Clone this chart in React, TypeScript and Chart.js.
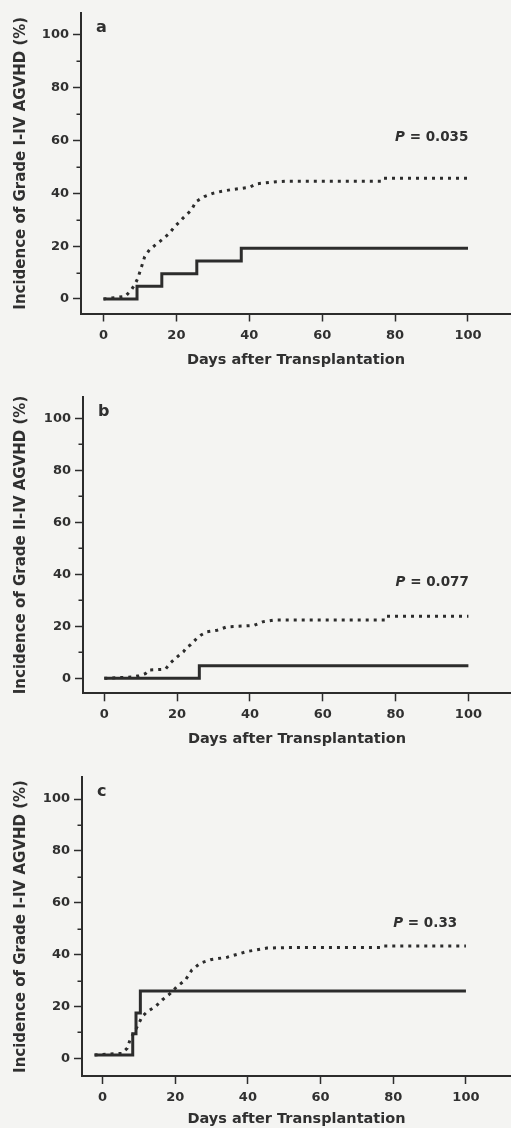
import React, { useEffect, useRef } from 'react';
import { Chart, registerables } from 'chart.js';
Chart.register(...registerables);

// ---- shared ticks / labels ----
const DAY_TICKS = [0, 20, 40, 60, 80, 100];
const PCT_TICKS = [0, 20, 40, 60, 80, 100];
const PCT_MINOR_TICKS = [10, 30, 50, 70, 90];
const X_TITLE = 'Days after Transplantation';

// ---- panel a ----
const A_Y_TITLE = 'Incidence of Grade I-IV AGVHD (%)';
const A_P_TEXT = '0.035';
const A_SOLID_DAYS = [0, 9.2, 16, 25.6, 37.8, 100];
const A_SOLID_PCT = [0, 4.8, 9.6, 14.4, 19.2, 19.2];
const A_DOTTED_DAYS = [0, 6.0, 7.6, 8.6, 9.4, 10.3, 11.3, 12.6, 14.0, 15.4, 16.8, 18.1, 19.5, 20.7, 21.8, 23.0, 24.1, 25.4, 26.5, 27.7, 30.0, 32.5, 35.5, 40.1, 41.9, 44.5, 47.4, 50.2, 76.3, 76.7, 100];
const A_DOTTED_PCT = [0, 1, 3.4, 5.5, 7.8, 11.6, 16, 18.6, 20.2, 21.7, 23.3, 24.9, 27.4, 29, 30.6, 32.2, 33.7, 36.9, 37.8, 38.8, 40, 40.8, 41.5, 42.3, 43.6, 44, 44.4, 44.6, 44.6, 45.7, 45.7];

// ---- panel b ----
const B_Y_TITLE = 'Incidence of Grade II-IV AGVHD (%)';
const B_P_TEXT = '0.077';
const B_SOLID_DAYS = [0, 26.1, 100];
const B_SOLID_PCT = [0, 4.8, 4.8];
const B_DOTTED_DAYS = [0, 7.6, 9.5, 11.3, 12.2, 16.8, 18.1, 19.2, 20.5, 21.8, 22.7, 23.6, 24.6, 25.4, 26.5, 28.2, 31.0, 33.7, 41.0, 43.7, 46.5, 77.1, 77.5, 100];
const B_DOTTED_PCT = [0, 0.5, 1, 1.8, 3.2, 3.5, 5.8, 7.2, 8.8, 10.3, 12, 12.8, 14.2, 15.4, 16.6, 17.9, 18.5, 19.8, 20.3, 21.8, 22.4, 22.4, 23.9, 23.9];

// ---- panel c ----
const C_Y_TITLE = 'Incidence of Grade I-IV AGVHD (%)';
const C_P_TEXT = '0.33';
const C_SOLID_DAYS = [-2.2, 8.3, 9.2, 10.4, 100];
const C_SOLID_PCT = [1.3, 9.5, 17.5, 26, 26];
const C_DOTTED_DAYS = [-2.2, 5.3, 6.8, 7.7, 8.6, 10.0, 10.9, 12.3, 14.6, 16.4, 18.7, 20.5, 22.8, 24.6, 26.9, 29.7, 34.3, 39.8, 45.2, 50.7, 76.6, 77, 100];
const C_DOTTED_PCT = [1.3, 1.9, 3.9, 7.7, 9.7, 13.5, 16.1, 18, 20, 22.5, 25.1, 27.7, 30.2, 34.1, 36.7, 38, 39, 41.2, 42.5, 42.7, 42.7, 43.3, 43.3];

const P_DAY = 80;
const A_P_PCT = 60;
const B_P_PCT = 35.5;
const C_P_PCT = 50.6;

const FONT = '"DejaVu Sans", "Liberation Sans", Arial, sans-serif';
const INK = '#2c2c2c';
const TEXT = '#303030';
const BG = '#f4f4f2';

type PanelDef = {
  letter: string;
  yTitle: string;
  pText: string;
  pPct: number;
  solidDays: number[];
  solidPct: number[];
  dottedDays: number[];
  dottedPct: number[];
  top: number;
  height: number;
  padTop: number;
  axisLeft: number;
  xAxisHeight: number;
  xTitlePadBottom: number;
  xMin: number;
  xMax: number;
  yMin: number;
  yMax: number;
};

const PANELS: PanelDef[] = [
  {
    letter: 'a', yTitle: A_Y_TITLE, pText: A_P_TEXT, pPct: A_P_PCT,
    solidDays: A_SOLID_DAYS, solidPct: A_SOLID_PCT, dottedDays: A_DOTTED_DAYS, dottedPct: A_DOTTED_PCT,
    top: 0, height: 372, padTop: 13, axisLeft: 81, xAxisHeight: 58.5, xTitlePadBottom: 3.3,
    xMin: -6.17, xMax: 111.8, yMin: -5.5, yMax: 108.3,
  },
  {
    letter: 'b', yTitle: B_Y_TITLE, pText: B_P_TEXT, pPct: B_P_PCT,
    solidDays: B_SOLID_DAYS, solidPct: B_SOLID_PCT, dottedDays: B_DOTTED_DAYS, dottedPct: B_DOTTED_PCT,
    top: 380, height: 372, padTop: 16.7, axisLeft: 83, xAxisHeight: 58.7, xTitlePadBottom: 4,
    xMin: -5.85, xMax: 111.7, yMin: -5.77, yMax: 108.3,
  },
  {
    letter: 'c', yTitle: C_Y_TITLE, pText: C_P_TEXT, pPct: C_P_PCT,
    solidDays: C_SOLID_DAYS, solidPct: C_SOLID_PCT, dottedDays: C_DOTTED_DAYS, dottedPct: C_DOTTED_PCT,
    top: 760, height: 368, padTop: 17, axisLeft: 82, xAxisHeight: 52, xTitlePadBottom: 0,
    xMin: -5.66, xMax: 112.4, yMin: -6.83, yMax: 108.5,
  },
];

const toPoints = (xs: number[], ys: number[]) => xs.map((x, i) => ({ x, y: ys[i] }));

function PanelChart({ def }: { def: PanelDef }) {
  const ref = useRef<HTMLCanvasElement | null>(null);
  useEffect(() => {
    if (!ref.current) return;
    const annot = {
      id: 'annot' + def.letter,
      afterDraw(chart: any) {
        const { ctx, chartArea } = chart;
        const ys = chart.scales.y;
        const xs = chart.scales.x;
        ctx.save();
        ctx.strokeStyle = INK;
        ctx.lineWidth = 1.5;
        ctx.beginPath();
        for (const v of PCT_MINOR_TICKS) {
          const py = Math.round(ys.getPixelForValue(v)) + 0.25;
          ctx.moveTo(ys.right - 4.5, py);
          ctx.lineTo(ys.right, py);
        }
        ctx.stroke();
        ctx.fillStyle = TEXT;
        ctx.font = `bold 16px ${FONT}`;
        ctx.textAlign = 'left';
        ctx.textBaseline = 'alphabetic';
        ctx.fillText(def.letter, chartArea.left + 15, chartArea.top + 19);
        const px = xs.getPixelForValue(P_DAY);
        const py = ys.getPixelForValue(def.pPct);
        ctx.font = `italic bold 13.5px ${FONT}`;
        ctx.fillText('P', px, py);
        const w = ctx.measureText('P').width;
        ctx.font = `bold 13.5px ${FONT}`;
        ctx.fillText(' = ' + def.pText, px + w, py);
        ctx.restore();
      },
    };
    const chart = new Chart(ref.current, {
      type: 'line',
      data: {
        datasets: [
          {
            data: toPoints(def.solidDays, def.solidPct),
            borderColor: INK,
            borderWidth: 3,
            stepped: 'before',
            pointRadius: 0,
            fill: false,
          },
          {
            data: toPoints(def.dottedDays, def.dottedPct),
            borderColor: INK,
            borderWidth: 3,
            borderDash: [3, 5],
            pointRadius: 0,
            tension: 0,
            fill: false,
          },
        ],
      },
      options: {
        animation: false,
        responsive: false,
        devicePixelRatio: 1,
        layout: { padding: { top: def.padTop, left: 0, right: 0, bottom: 0 } },
        plugins: { legend: { display: false }, tooltip: { enabled: false } },
        scales: {
          x: {
            type: 'linear',
            min: def.xMin,
            max: def.xMax,
            afterBuildTicks: (s: any) => { s.ticks = DAY_TICKS.map((v) => ({ value: v })); },
            afterFit: (s: any) => { s.height = def.xAxisHeight; },
            ticks: {
              color: TEXT,
              font: { family: FONT, size: 13, weight: 'bold' },
              padding: 6,
              maxRotation: 0,
              autoSkip: false,
              callback: (v: any) => String(v),
            },
            grid: { drawOnChartArea: false, drawTicks: true, tickLength: 8, tickColor: INK, tickWidth: 1.5 },
            border: { display: true, color: INK, width: 2 },
            title: {
              display: true,
              text: X_TITLE,
              color: TEXT,
              font: { family: FONT, size: 14.5, weight: 'bold' },
              padding: { top: 0, bottom: def.xTitlePadBottom },
            },
          },
          y: {
            type: 'linear',
            min: def.yMin,
            max: def.yMax,
            afterBuildTicks: (s: any) => { s.ticks = PCT_TICKS.map((v) => ({ value: v })); },
            afterFit: (s: any) => { s.width = def.axisLeft; },
            ticks: {
              color: TEXT,
              font: { family: FONT, size: 13, weight: 'bold' },
              padding: 4,
              autoSkip: false,
              callback: (v: any) => String(v),
            },
            grid: { drawOnChartArea: false, drawTicks: true, tickLength: 8, tickColor: INK, tickWidth: 1.5 },
            border: { display: true, color: INK, width: 2 },
            title: {
              display: true,
              text: def.yTitle,
              color: TEXT,
              font: { family: FONT, size: 15, weight: 'bold' },
              padding: { top: 12, bottom: 0 },
            },
          },
        },
      },
      plugins: [annot],
    } as any);
    return () => chart.destroy();
  }, [def]);
  return (
    <canvas
      ref={ref}
      width={511}
      height={def.height}
      style={{ position: 'absolute', left: 0, top: def.top, width: 511, height: def.height }}
    />
  );
}

export default function App() {
  return (
    <div style={{ position: 'absolute', left: 0, top: 0, width: 511, height: 1128, background: BG, overflow: 'hidden' }}>
      {PANELS.map((p) => (
        <PanelChart key={p.letter} def={p} />
      ))}
    </div>
  );
}
